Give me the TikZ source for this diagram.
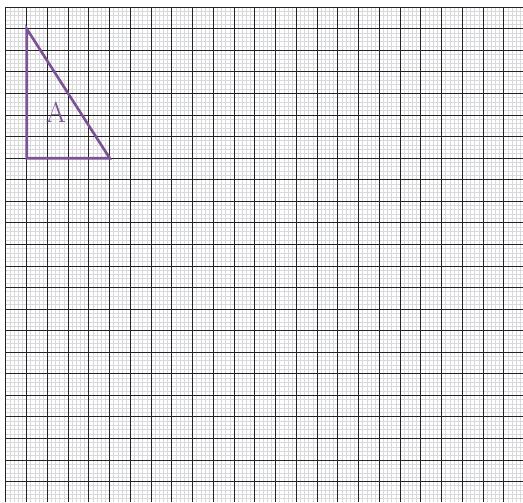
\documentclass[tikz,border=0pt]{standalone}
\definecolor{gridminor}{RGB}{216,217,221}
\definecolor{gridmajor}{RGB}{35,35,35}
\definecolor{tripurple}{RGB}{125,82,148}
\begin{document}
\begin{tikzpicture}
  [x=20.75pt,y=-21.56pt,
   minor/.style={draw=gridminor,line width=1pt},
   major/.style={draw=gridmajor,line width=1pt},
   tri/.style={draw=tripurple,line width=2.6pt,line join=miter},
   lbl/.style={text=tripurple,font=\fontsize{29}{31}\selectfont,inner sep=0pt}]
  \useasboundingbox[fill=white] (-0.289,-0.339) rectangle (24.916,22.945);

  % fine grid
  \foreach \i in {1,...,124}
    \draw[minor] (\i/5,0) -- (\i/5,22.945);
  \foreach \j in {1,...,114}
    \draw[minor] (0,\j/5) -- (24.916,\j/5);

  % main grid
  \foreach \i in {0,...,24}
    \draw[major] (\i,0) -- (\i,22.945);
  \foreach \j in {0,...,22}
    \draw[major] (0,\j) -- (24.916,\j);

  % triangle A
  \coordinate (top) at (1,1);
  \coordinate (corner) at (1,7);
  \coordinate (right) at (5,7);
  \draw[tri] (top) -- (corner) -- (right) -- cycle;
  \node[lbl] (labelA) at (2.41,4.88) {A};
\end{tikzpicture}
\end{document}
